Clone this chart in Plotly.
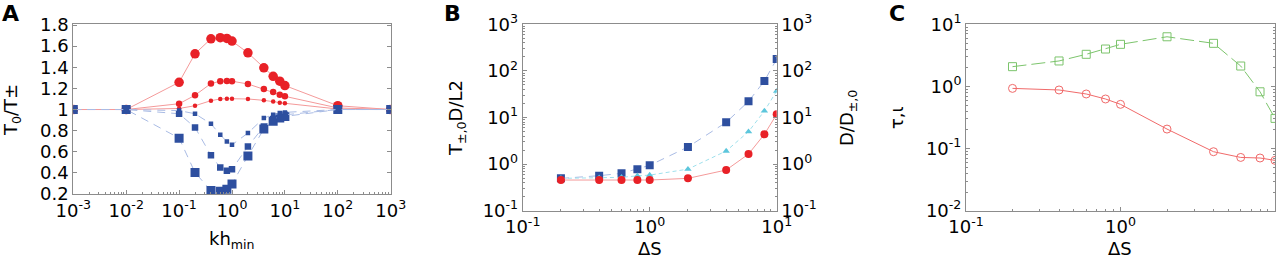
import plotly.graph_objects as go

# ---------------- Panel A data ----------------
kh = [0.001, 0.01, 0.1, 0.2, 0.4, 0.6, 0.8, 1, 2, 4, 6, 8, 10, 100, 1000]
red_large = [1.0, 1.0, 1.258, 1.528, 1.67, 1.68, 1.673, 1.648, 1.537, 1.395, 1.315, 1.268, 1.227, 1.036, 1.0]
red_med = [1.0, 1.0, 1.055, 1.135, 1.246, 1.268, 1.271, 1.268, 1.242, 1.195, 1.166, 1.141, 1.125, 1.015, 1.0]
red_small = [1.0, 1.0, 1.01, 1.036, 1.084, 1.10, 1.103, 1.103, 1.10, 1.087, 1.075, 1.065, 1.059, 1.005, 1.0]
blue_large = [1.0, 1.0, 0.729, 0.403, 0.232, 0.225, 0.244, 0.295, 0.561, 0.815, 0.888, 0.92, 0.935, 1.0, 1.0]
blue_med = [1.0, 1.0, 0.96, 0.83, 0.567, 0.45, 0.42, 0.434, 0.65, 0.84, 0.91, 0.935, 0.95, 1.0, 1.0]
blue_small = [1.0, 1.0, 0.99, 0.96, 0.865, 0.76, 0.697, 0.666, 0.777, 0.92, 0.95, 0.967, 0.973, 1.0, 1.0]
A_xticks = [0.001, 0.01, 0.1, 1, 10, 100, 1000]
A_xlabels = ["10<sup>-3</sup>", "10<sup>-2</sup>", "10<sup>-1</sup>", "10<sup>0</sup>",
             "10<sup>1</sup>", "10<sup>2</sup>", "10<sup>3</sup>"]
A_yticks = [0.2, 0.4, 0.6, 0.8, 1.0, 1.2, 1.4, 1.6, 1.8]
A_ylabels = ["0.2", "0.4", "0.6", "0.8", "1", "1.2", "1.4", "1.6", "1.8"]

# ---------------- Panel B data ----------------
dS = [0.2, 0.4, 0.6, 0.8, 1, 2, 4, 6, 8, 10]
B_blue = [0.494, 0.564, 0.633, 0.78, 0.94, 2.33, 7.87, 22.2, 60.8, 180]
B_cyan = [0.494, 0.51, 0.52, 0.56, 0.58, 0.78, 1.91, 4.97, 13.8, 37]
B_red = [0.455, 0.455, 0.455, 0.455, 0.455, 0.494, 0.746, 1.64, 4.36, 11.7]
BC_xticks = [0.1, 1, 10]
BC_xlabels = ["10<sup>-1</sup>", "10<sup>0</sup>", "10<sup>1</sup>"]
B_yticks = [0.1, 1, 10, 100, 1000]
B_ylabels = ["10<sup>-1</sup>", "10<sup>0</sup>", "10<sup>1</sup>", "10<sup>2</sup>", "10<sup>3</sup>"]

# ---------------- Panel C data ----------------
C_green = [2.08, 2.57, 3.29, 4.0, 4.76, 6.3, 4.94, 2.13, 0.82, 0.306]
C_red = [0.93, 0.877, 0.756, 0.628, 0.515, 0.206, 0.089, 0.072, 0.0705, 0.0646]
C_yticks = [0.01, 0.1, 1, 10]
C_ylabels = ["10<sup>-2</sup>", "10<sup>-1</sup>", "10<sup>0</sup>", "10<sup>1</sup>"]

RED = "#e82127"
RED_L = "#f49a9a"
BLUE = "#2e4f9f"
BLUE_L = "#a9bbe4"
CYAN = "#5cc6dc"
CYAN_L = "#9fe0ec"
GREEN = "#7cc46c"
FRAME = "#8c8c8c"
FONT = "DejaVu Sans, Liberation Sans, Arial, sans-serif"

W, H = 1288, 260
def px(x):
    return x / W
def py(y):
    return 1 - y / H

def minor_vals(lo, hi):
    return [m * 10.0 ** e for e in range(lo, hi) for m in range(2, 10)]

fig = go.Figure()

# Panel A traces
for ys, sz in [(red_large, 9.5), (red_med, 6.5), (red_small, 4.5)]:
    fig.add_trace(go.Scatter(x=kh, y=ys, mode="lines+markers", xaxis="x", yaxis="y",
                             line=dict(color=RED_L, width=1),
                             marker=dict(symbol="circle", size=sz, color=RED)))
for ys, sz in [(blue_large, 9), (blue_med, 6.5), (blue_small, 4.5)]:
    fig.add_trace(go.Scatter(x=kh, y=ys, mode="lines+markers", xaxis="x", yaxis="y",
                             line=dict(color=BLUE_L, width=1, dash="8px,6px"),
                             marker=dict(symbol="square", size=sz, color=BLUE)))

# Panel B traces
fig.add_trace(go.Scatter(x=dS, y=B_blue, mode="lines+markers", xaxis="x2", yaxis="y2",
                         line=dict(color=BLUE_L, width=1, dash="8px,6px"),
                         marker=dict(symbol="square", size=8, color=BLUE)))
fig.add_trace(go.Scatter(x=dS, y=B_cyan, mode="lines+markers", xaxis="x2", yaxis="y2",
                         line=dict(color=CYAN_L, width=1, dash="4px,3px"),
                         marker=dict(symbol="triangle-up", size=6.5, color=CYAN)))
fig.add_trace(go.Scatter(x=dS, y=B_red, mode="lines+markers", xaxis="x2", yaxis="y2",
                         line=dict(color=RED_L, width=1),
                         marker=dict(symbol="circle", size=8, color=RED)))

# Panel C traces
fig.add_trace(go.Scatter(x=dS, y=C_green, mode="lines+markers", xaxis="x3", yaxis="y3",
                         line=dict(color=GREEN, width=1, dash="14px,5px"),
                         marker=dict(symbol="square-open", size=8, color=GREEN, line=dict(width=1))))
fig.add_trace(go.Scatter(x=dS, y=C_red, mode="lines+markers", xaxis="x3", yaxis="y3",
                         line=dict(color="#f06a6a", width=1),
                         marker=dict(symbol="circle-open", size=8, color="#f06a6a", line=dict(width=1))))

# invisible trace to activate right axis of B
fig.add_trace(go.Scatter(x=[1], y=[1], xaxis="x2", yaxis="y4", mode="markers",
                         marker=dict(opacity=0), hoverinfo="skip"))

tickfont = dict(family=FONT, size=18, color="black")
base = dict(showgrid=False, zeroline=False, showline=True, linecolor=FRAME, linewidth=1,
            ticks="inside", ticklen=4, tickcolor=FRAME, tickfont=tickfont,
            automargin=False, tickmode="array")

def xlog(tv, tt, lo, hi, **kw):
    d = dict(type="log", tickvals=tv, ticktext=tt, mirror=True,
             minor=dict(ticks="inside", ticklen=2, tickcolor=FRAME, showgrid=False,
                        tickmode="array", tickvals=minor_vals(lo, hi)), **base)
    d.update(kw)
    return d

def ylog(tv, tt, lo, hi, **kw):
    d = dict(type="log", tickvals=tv, ticktext=tt, mirror="ticks",
             minor=dict(ticks="inside", ticklen=2, tickcolor=FRAME, showgrid=False,
                        tickmode="array", tickvals=minor_vals(lo, hi)), **base)
    d.update(kw)
    return d

fig.update_layout(
    width=W, height=H, showlegend=False,
    margin=dict(l=0, r=0, t=0, b=0),
    paper_bgcolor="white", plot_bgcolor="white",
    xaxis=xlog(A_xticks, A_xlabels, -3, 3, domain=[px(73.3), px(390.7)], range=[-3, 3], anchor="y"),
    yaxis=dict(domain=[py(194), py(24)], range=[0.2, 1.81], tickvals=A_yticks, ticktext=A_ylabels,
               anchor="x", mirror="ticks", **base),
    xaxis2=xlog(BC_xticks, BC_xlabels, -1, 1, domain=[px(522.7), px(776.7)], range=[-1, 1], anchor="y2"),
    yaxis2=ylog(B_yticks, B_ylabels, -1, 3, domain=[py(210.7), py(24.3)], range=[-1, 3], anchor="x2"),
    yaxis4=ylog(B_yticks, B_ylabels, -1, 3, domain=[py(210.7), py(24.3)], range=[-1, 3], anchor="x2",
                overlaying="y2", side="right"),
    xaxis3=xlog(BC_xticks, BC_xlabels, -1, 1, domain=[px(966), px(1275)], range=[-1, 1], anchor="y3"),
    yaxis3=ylog(C_yticks, C_ylabels, -2, 1, domain=[py(210.7), py(24.3)], range=[-2, 1], anchor="x3"),
)

tf = dict(family=FONT, size=18, color="black")
lf = dict(family=FONT, size=22, color="black")
ann = [
    dict(text="<b>A</b>", x=px(10), y=py(13), font=lf),
    dict(text="<b>B</b>", x=px(452), y=py(13), font=lf),
    dict(text="<b>C</b>", x=px(897), y=py(13), font=lf),
    dict(text="T<sub>0</sub>/T±", x=px(12), y=py(110), textangle=-90, font=tf),
    dict(text="kh<sub>min</sub>", x=px(232), y=py(240), font=tf),
    dict(text="T<sub>±,0</sub>D/L2", x=px(457), y=py(118), textangle=-90, font=tf),
    dict(text="D/D<sub>±,0</sub>", x=px(848), y=py(118), textangle=-90, font=tf),
    dict(text="ΔS", x=px(650), y=py(248), font=tf),
    dict(text="τ,ι", x=px(897), y=py(118), textangle=-90, font=tf),
    dict(text="ΔS", x=px(1120), y=py(248), font=tf),
]
for a in ann:
    a.update(xref="paper", yref="paper", showarrow=False, xanchor="center", yanchor="middle")
fig.update_layout(annotations=ann)

fig.write_html("out.html", config={"displayModeBar": False},
               post_script="document.body.style.margin='0';document.body.style.overflow='hidden';")
